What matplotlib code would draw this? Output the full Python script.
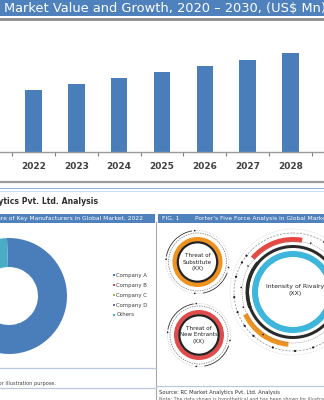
import numpy as np
import matplotlib
matplotlib.use("Agg")
import matplotlib.pyplot as plt
from matplotlib.patches import Rectangle, Wedge, Circle

W, H = 324, 400

# bar chart data (US$ Mn)
years = ['2020', '2021', '2022', '2023', '2024', '2025', '2026', '2027', '2028', '2029', '2030']
market_value = [49.5, 55.5, 61.6, 68.0, 74.3, 80.0, 86.0, 92.3, 99.0, 105.5, 112.0]

# donut data (market share, %)
companies = ['Company A', 'Company B', 'Company C', 'Company D', 'Others']
shares = [56, 13, 12, 11, 8]
share_colors = ['#4a7ebb', '#c0504d', '#9bbb59', '#8064a2', '#4bacc6']

# porter's five forces shown in the crop
forces = ['Threat of\nSubstitute\n(XX)', 'Intensity of Rivalry\n(XX)', 'Threat of\nNew Entrants\n(XX)']

BLUE = '#4a7ebb'
BANNER = '#4f81bd'


def px_axes(x0, y0, w, h):
    # axes placed in pixel coords measured from the top-left corner
    return fig.add_axes([x0 / W, 1 - (y0 + h) / H, w / W, h / H])


fig = plt.figure(figsize=(W / 100, H / 100), dpi=100)

# ---- bar chart ----
ax = px_axes(0, 20, W, 132)
x = np.arange(len(years))
ax.bar(x, market_value, width=0.39, color=BLUE)
ax.set_xticks(x)
ax.set_xticklabels(years, fontsize=6.5, color='#404040', fontweight='bold')
ax.set_xticks(x[:-1] + 0.5, minor=True)
ax.tick_params(axis='x', which='major', length=0, pad=7.5)
ax.tick_params(axis='x', which='minor', length=3, color='#808080', width=0.8)
ax.set_yticks([])
ax.set_ylim(0, 132)
ax.set_xlim(2 - 33.3 / 42.9, 2 + (W - 33.3) / 42.9)
for s in ['top', 'left', 'right']:
    ax.spines[s].set_visible(False)
ax.spines['bottom'].set_color('#9a9a9a')
ax.spines['bottom'].set_linewidth(1)

# ---- donut ----
cx, cy, r = 9, 296, 58
dax = px_axes(cx - r, cy - r, 2 * r, 2 * r)
dax.pie(shares, colors=share_colors, startangle=92, counterclock=False,
        radius=1, wedgeprops=dict(width=0.5, linewidth=0))
dax.set_xlim(-1, 1)
dax.set_ylim(-1, 1)
dax.axis('off')

# ---- overlay for banners, frames, legend and rings ----
ov = fig.add_axes([0, 0, 1, 1], zorder=5)
ov.set_xlim(0, W)
ov.set_ylim(H, 0)
ov.axis('off')
ov.patch.set_alpha(0)

# top banner
ov.add_patch(Rectangle((0, 0), W, 15.5, color=BANNER, lw=0))
ov.text(4, 8, 'Market Value and Growth, 2020 \u2013 2030, (US$ Mn)', color='white',
        fontsize=9.4, va='center', ha='left')
ov.plot([0, W], [18.5, 18.5], color='#8c8c8c', lw=2)

# frame lines between sections
ov.plot([0, W], [182, 182], color='#9a9a9a', lw=1.6)
ov.plot([0, W], [188, 188], color='#95b3d7', lw=0.8)
ov.plot([0, W], [190.5, 190.5], color='#c6d6ea', lw=0.6)
ov.text(98, 201, 'RC Market Analytics Pvt. Ltd. Analysis', fontsize=5.6, ha='right',
        va='center', color='#303030', fontweight='bold')

# panel banners
ov.add_patch(Rectangle((0, 214), 154.5, 8.5, color=BANNER, lw=0))
ov.text(143, 218.3, 'Market Share of Key Manufacturers in Global Market, 2022', color='white',
        fontsize=4.3, ha='right', va='center')
ov.add_patch(Rectangle((158, 214), W - 158, 8.5, color=BANNER, lw=0))
ov.text(162, 218.3, 'FIG. 1', color='white', fontsize=4.3, va='center')
ov.text(195, 218.3, "Porter's Five Force Analysis in Global Market", color='white',
        fontsize=4.3, va='center')

# panel borders
ov.plot([155.5, 155.5], [222, H], color='#a6a6a6', lw=0.8)
ov.plot([0, 155.5], [368, 368], color='#b8c9de', lw=0.9)
ov.plot([0, 155.5], [388, 388], color='#b8c9de', lw=0.9)
ov.text(56, 383, 'Note: Data is shown for illustration purpose.', fontsize=3.6, ha='right',
        va='center', color='#404040')
ov.plot([155.5, W], [386, 386], color='#b8c9de', lw=0.9)
ov.text(159, 392.5, 'Source: RC Market Analytics Pvt. Ltd. Analysis', fontsize=3.8,
        va='center', color='#303030')
ov.text(159, 399, 'Note: The data shown is hypothetical and has been shown for illustration purpose',
        fontsize=3.4, va='center', color='#606060')

# donut legend
for i, (name, col) in enumerate(zip(companies, share_colors)):
    yy = 275 + 10 * i
    ov.add_patch(Rectangle((112.5, yy - 1.2), 2.4, 2.4, color=col, lw=0))
    ov.text(116.5, yy, name, fontsize=3.9, va='center', color='#404040')


def ring(c, r_out, width, color, a1=0, a2=360):
    # visual angles (counter-clockwise, y up) -> inverted data axes
    ov.add_patch(Wedge(c, r_out, -a2, -a1, width=width, color=color, lw=0))


def dots(c, rr, angles, size=1.1):
    for a in angles:
        t = np.radians(a)
        ov.add_patch(Circle((c[0] + rr * np.cos(t), c[1] - rr * np.sin(t)), size,
                            color='#1a1a1a', lw=0))


# small rings
for c, col, label in [((197.5, 262), '#f0921e', forces[0]), ((199, 335), '#e04b4b', forces[2])]:
    ov.add_patch(Circle(c, 20.5, color='white', lw=0))
    ring(c, 25, 4.5, col)
    ring(c, 20.8, 2.2, '#222222')
    ov.add_patch(Circle(c, 29, fill=False, ec='#707070', lw=0.5, ls=(0, (2, 1.5))))
    ov.add_patch(Circle(c, 31.5, fill=False, ec='#9a9a9a', lw=0.4, ls=(0, (1, 2))))
    ring(c, 32, 0.8, '#333333', 100, 170)
    ring(c, 32, 0.8, '#333333', 280, 340)
    dots(c, 31.5, [95, 175, 265, 350], size=0.8)
    ov.text(c[0], c[1], label, fontsize=4.1, ha='center', va='center',
            color='#202020', linespacing=1.45)

# big ring
bc = (293, 292)
ring(bc, 41, 6, '#3db5dc')
ring(bc, 47, 3, '#2a2a2a')
ring(bc, 55, 5, '#e8463e', 80, 140)
ring(bc, 55, 5, '#f0921e', 205, 265)
ring(bc, 47.5, 3.5, '#2a2a2a', 140, 200)
ov.add_patch(Circle(bc, 51, fill=False, ec='#8a8a8a', lw=0.4, ls=(0, (2, 1.5))))
ov.add_patch(Circle(bc, 59, fill=False, ec='#8a8a8a', lw=0.5, ls=(0, (3, 2))))
ov.add_patch(Circle(bc, 63, fill=False, ec='#b0b0b0', lw=0.4, ls=(0, (1, 2))))
dots(bc, 59, [58, 142, 150, 165, 185, 200, 215, 228, 250, 272, 290], size=1.1)
dots(bc, 52, [70, 150, 175, 197, 235], size=0.8)
ov.text(bc[0] + 2, bc[1] - 2, forces[1], fontsize=4.4, ha='center', va='center',
        color='#202020', linespacing=1.6)

fig.savefig('out.png', dpi=100)
